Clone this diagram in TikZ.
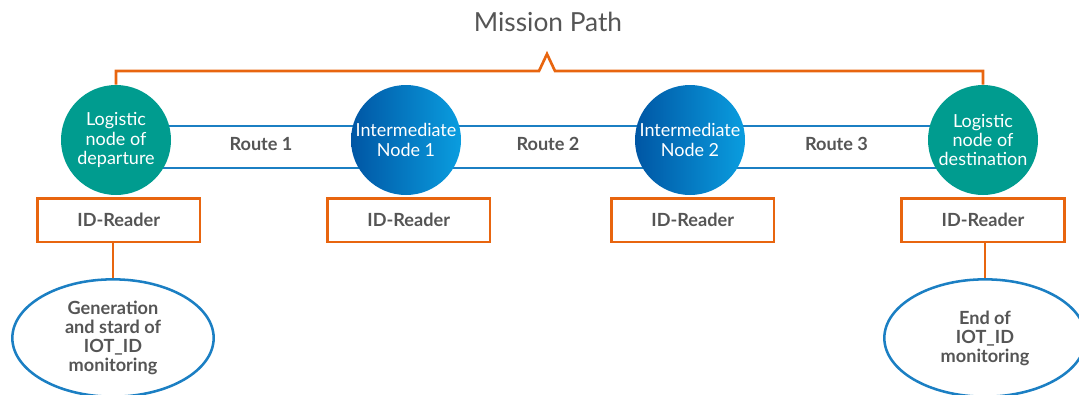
\documentclass[tikz,border=0pt]{standalone}
\usepackage{fontspec}
\setmainfont{Lato}
\usetikzlibrary{positioning,shapes.geometric,backgrounds,calc}
\definecolor{pathorange}{HTML}{E8650F}
\definecolor{routeblue}{HTML}{1B7FC3}
\definecolor{nodeteal}{HTML}{009C8F}
\definecolor{nodedark}{HTML}{0056A4}
\definecolor{nodelight}{HTML}{0A9DDF}
\definecolor{textgray}{HTML}{555555}
\tikzset{
  title/.style={font=\fontsize{19.7}{23}\selectfont, text=textgray},
  endpoint/.style={
    circle, fill=nodeteal, minimum size=82.5pt, inner sep=0pt,
    align=center, font=\fontsize{13.5}{14.6}\selectfont, text=white
  },
  midpoint/.style={
    circle, left color=nodedark, right color=nodelight, minimum size=82.5pt,
    inner sep=0pt, align=center, font=\fontsize{13.5}{14.6}\selectfont, text=white
  },
  reader/.style={
    rectangle, draw=pathorange, line width=2pt,
    minimum width=122pt, minimum height=32.5pt,
    font=\bfseries\fontsize{13.6}{15}\selectfont, text=textgray
  },
  monitor/.style={
    ellipse, draw=routeblue, line width=1.9pt, inner sep=0pt,
    minimum width=151pt, minimum height=88pt, align=center,
    font=\bfseries\fontsize{13.6}{14.3}\selectfont, text=textgray
  },
  route/.style={font=\bfseries\fontsize{13.6}{15}\selectfont, text=textgray},
  link/.style={draw=pathorange, line width=2pt},
  rail/.style={draw=routeblue, line width=1.8pt}
}

\begin{document}
\begin{tikzpicture}[x=0.75pt, y=-0.75pt]
\useasboundingbox (0,0) rectangle (1079,394);
\node[title] (mission) at (548,22) {Mission Path};
% nodes of the path
\node[endpoint] (dep) at (116,140) {Logistic\\node of\\departure};
\node[midpoint] (int1) at (406,140) {Intermediate\\Node 1};
\node[midpoint] (int2) at (690,140) {Intermediate\\Node 2};
\node[endpoint] (dest) at (983,140) {Logistic\\node of\\destination};
% routes between them
\begin{scope}[on background layer]
\foreach \a/\b in {dep/int1,int2/dest,int1/int2} {
  \draw[rail] ([yshift=10.5pt]\a.center) -- ([yshift=10.5pt]\b.center);
  \draw[rail] ([yshift=-21pt]\a.center) -- ([yshift=-21pt]\b.center);
}
\end{scope}
\node[route] (r1) at ($(dep)!0.5!(int1)+(0,4)$) {Route 1};
\node[route] (r2) at ($(int1)!0.5!(int2)+(0,4)$) {Route 2};
\node[route] (r3) at ($(int2)!0.5!(dest)+(0,4)$) {Route 3};
% readers
\node[reader, below=1.5pt of dep, xshift=2pt] (dread) {ID-Reader};
\node[reader, below=1.5pt of int1, xshift=2pt] (iread1) {ID-Reader};
\node[reader, below=1.5pt of int2, xshift=2pt] (iread2) {ID-Reader};
\node[reader, below=1.5pt of dest] (eread) {ID-Reader};
% start and end of monitoring
\node[monitor] (gen) at (113,338) {Generation\\and stard of\\IOT\_ID\\monitoring};
\node[monitor] (stop) at (985,338) {End of\\IOT\_ID\\monitoring};
\draw[link] (dread.south -| gen) -- (gen);
\draw[link] (eread.south -| stop) -- (stop);
% mission bracket
\coordinate (peak) at (547,54);
\draw[link] (dep.north) |- ($(peak)+(-8,17)$) -- (peak) -- ($(peak)+(8,17)$) -| (dest.north);
\end{tikzpicture}
\end{document}
